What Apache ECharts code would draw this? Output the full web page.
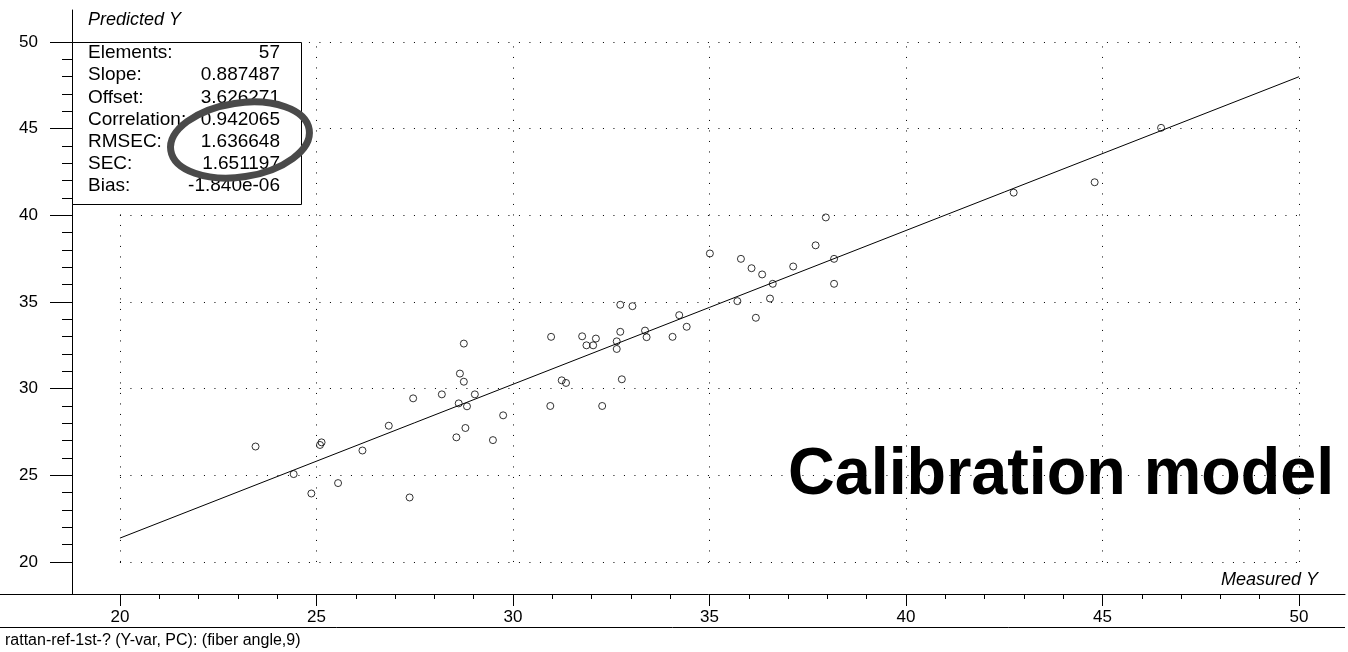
<!DOCTYPE html>
<html><head><meta charset="utf-8">
<script src="https://cdn.jsdelivr.net/npm/echarts@6/dist/echarts.min.js"></script>
<style>html,body{margin:0;padding:0;background:#fff}#c{width:1348px;height:652px}</style>
</head><body><div id="c"></div>
<script>
// ---- data ----
const measured = [23.45, 24.42, 25.13, 25.09, 24.87, 25.55, 26.17, 26.84, 27.46, 27.37,
  28.19, 28.65, 28.75, 28.75, 28.62, 28.83, 29.03, 28.79, 28.56, 29.75,
  29.49, 30.97, 30.95, 31.24, 31.35, 31.76, 31.87, 32.04, 32.11, 32.27,
  32.64, 32.64, 32.73, 32.73, 32.77, 33.04, 33.36, 33.40, 34.06, 34.23,
  34.42, 35.01, 35.71, 35.80, 36.07, 36.18, 36.34, 36.54, 36.61, 37.13,
  37.70, 38.17, 38.17, 37.96, 42.74, 44.80, 46.49];
const predicted = [26.66, 25.07, 26.90, 26.75, 23.95, 24.55, 26.43, 27.86, 29.44, 23.72,
  29.67, 30.87, 32.60, 30.40, 29.15, 28.98, 29.67, 27.73, 27.19, 28.46,
  27.03, 32.99, 29.00, 30.48, 30.33, 33.02, 32.50, 32.50, 32.89, 29.00,
  32.73, 32.29, 33.28, 34.84, 30.54, 34.76, 33.35, 32.97, 32.99, 34.24,
  33.57, 37.80, 35.05, 37.49, 36.95, 34.09, 36.59, 35.20, 36.05, 37.05,
  38.27, 37.49, 36.05, 39.88, 41.31, 41.91, 45.05];
const majorTicks = [20, 25, 30, 35, 40, 45, 50];
const minorTicks = [21, 22, 23, 24, 26, 27, 28, 29, 31, 32, 33, 34, 36, 37, 38, 39,
  41, 42, 43, 44, 46, 47, 48, 49];
const gridValues = [20, 25, 30, 35, 40, 45, 50];
const statLabels = ['Elements:', 'Slope:', 'Offset:', 'Correlation:', 'RMSEC:', 'SEC:', 'Bias:'];
const statValues = ['57', '0.887487', '3.626271', '0.942065', '1.636648', '1.651197', '-1.840e-06'];
const slope = 0.887487;
const offset = 3.626271;
const fitRange = [20, 50];
const xName = 'Measured Y';
const yName = 'Predicted Y';
const caption = 'rattan-ref-1st-? (Y-var, PC): (fiber angle,9)';
const bigTitle = 'Calibration model';

// ---- layout ----
const FONT = "'Liberation Sans', Arial, sans-serif";
const xMin = 18.78, xMax = 51.17, yMin = 18.15, yMax = 51.85;

const points = measured.map((m, i) => [m, predicted[i]]);
const fitLine = fitRange.map(x => [x, slope * x + offset]);
const gridMarks = [];
gridValues.forEach(v => {
  gridMarks.push([{ coord: [gridValues[0], v] }, { coord: [gridValues[gridValues.length - 1], v] }]);
  gridMarks.push([{ coord: [v, gridValues[0]] }, { coord: [v, gridValues[gridValues.length - 1]] }]);
});

const chart = echarts.init(document.getElementById('c'), null, { renderer: 'canvas' });

const graphics = [
  { type: 'line', z: 60, shape: { x1: 0, y1: 594.5, x2: 72, y2: 594.5 }, style: { stroke: '#000', lineWidth: 1 } },
  { type: 'line', z: 60, shape: { x1: 0, y1: 627.5, x2: 1345, y2: 627.5 }, style: { stroke: '#000', lineWidth: 1 } },
  { type: 'rect', z: 50, shape: { x: 72.5, y: 42.5, width: 229, height: 162 }, style: { fill: '#fff', stroke: '#000', lineWidth: 1 } },
  { type: 'text', z: 60, x: 88, y: 20, style: { text: yName, font: 'italic 18px ' + FONT, fill: '#000', verticalAlign: 'middle' } },
  { type: 'text', z: 60, x: 1318, y: 580, style: { text: xName, font: 'italic 18px ' + FONT, fill: '#000', align: 'right', verticalAlign: 'middle' } },
  { type: 'text', z: 60, x: 5, y: 641, style: { text: caption, font: '16px ' + FONT, fill: '#000', verticalAlign: 'middle' } },
  { type: 'text', z: 60, x: 788, y: 476, scaleX: 0.98, style: { text: bigTitle, font: 'bold 66px ' + FONT, fill: '#000', verticalAlign: 'middle' } }
];
statLabels.forEach((t, i) => {
  graphics.push({ type: 'text', z: 55, x: 88, y: 53 + i * 22.2, style: { text: t, font: '19px ' + FONT, fill: '#000', verticalAlign: 'middle' } });
  graphics.push({ type: 'text', z: 55, x: 280, y: 53 + i * 22.2, style: { text: statValues[i], font: '19px ' + FONT, fill: '#000', align: 'right', verticalAlign: 'middle' } });
});
graphics.push({ type: 'ellipse', z: 58, x: 240, y: 140, rotation: 0.15,
  shape: { cx: 0, cy: 0, rx: 70, ry: 37 }, style: { fill: 'none', stroke: '#4a4a4a', lineWidth: 7 } });

chart.setOption({
  animation: false,
  backgroundColor: '#fff',
  grid: { left: 72, right: 3, top: 10, bottom: 58, containLabel: false },
  xAxis: [
    { type: 'value', min: xMin, max: xMax, position: 'bottom',
      axisLine: { show: true, lineStyle: { color: '#000', width: 1 } },
      axisTick: { show: true, customValues: majorTicks, length: 12, lineStyle: { color: '#000', width: 1 } },
      axisLabel: { show: true, customValues: majorTicks, margin: 15, fontSize: 17, color: '#000', fontFamily: FONT },
      splitLine: { show: false } },
    { type: 'value', min: xMin, max: xMax, position: 'bottom',
      axisLine: { show: false },
      axisTick: { show: true, customValues: minorTicks, length: 5, lineStyle: { color: '#000', width: 1 } },
      axisLabel: { show: false },
      splitLine: { show: false } }
  ],
  yAxis: [
    { type: 'value', min: yMin, max: yMax, position: 'left',
      axisLine: { show: true, lineStyle: { color: '#000', width: 1 } },
      axisTick: { show: true, customValues: majorTicks, length: 22, lineStyle: { color: '#000', width: 1 } },
      axisLabel: { show: true, customValues: majorTicks, margin: 34, fontSize: 17, color: '#000', fontFamily: FONT },
      splitLine: { show: false } },
    { type: 'value', min: yMin, max: yMax, position: 'left',
      axisLine: { show: false },
      axisTick: { show: true, customValues: minorTicks, length: 10, lineStyle: { color: '#000', width: 1 } },
      axisLabel: { show: false },
      splitLine: { show: false } }
  ],
  series: [
    { type: 'line', xAxisIndex: 0, yAxisIndex: 0, data: fitLine, showSymbol: false, symbol: 'none',
      lineStyle: { color: '#000', width: 1 }, z: 3, silent: true,
      markLine: { silent: true, symbol: ['none', 'none'], label: { show: false }, z: 1,
        lineStyle: { type: [1, 9.5], color: '#000', width: 1 }, emphasis: { disabled: true },
        data: gridMarks } },
    { type: 'scatter', xAxisIndex: 0, yAxisIndex: 0, data: points, symbol: 'circle', symbolSize: 7,
      itemStyle: { color: 'rgba(255,255,255,0)', borderColor: '#000', borderWidth: 1 }, z: 5 }
  ],
  graphic: graphics
});
</script></body></html>
